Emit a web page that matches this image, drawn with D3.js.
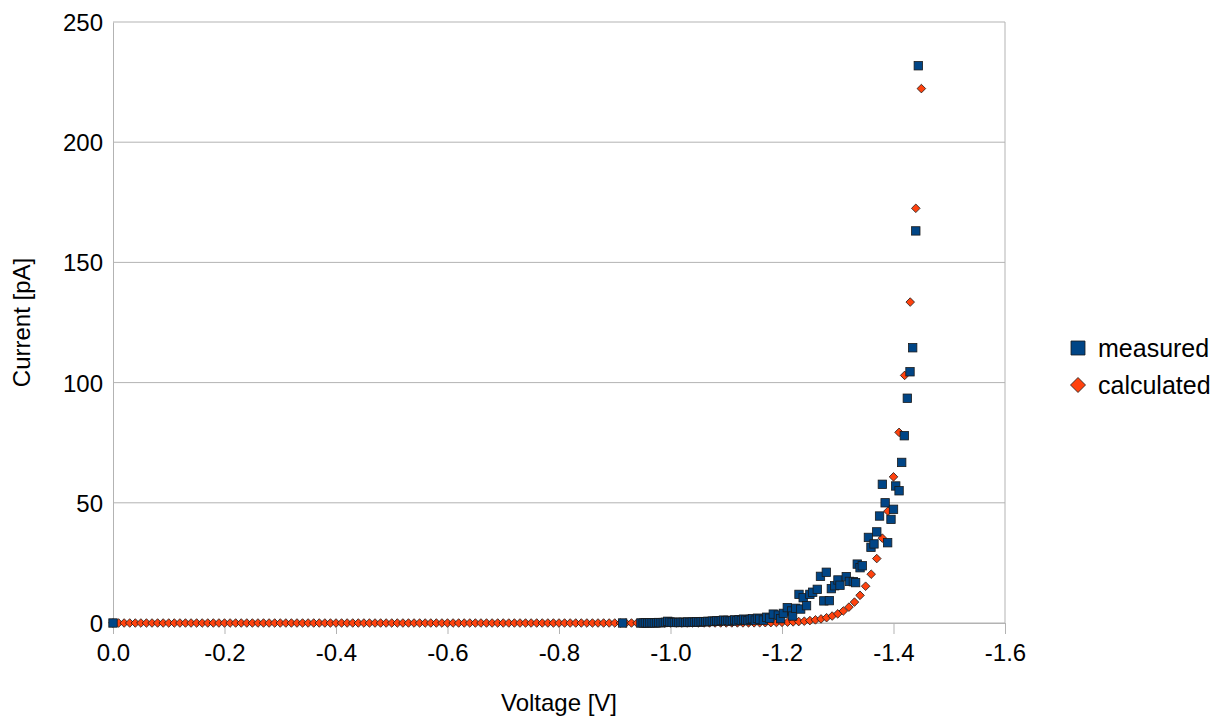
<!DOCTYPE html>
<html>
<head>
<meta charset="utf-8">
<script src="https://cdn.jsdelivr.net/npm/d3@7"></script>
<style>
  body { margin: 0; background: #fff; }
  text { font-family: "Liberation Sans", Arial, sans-serif; fill: #000; }
</style>
</head>
<body>
<svg id="chart"></svg>
<script>
/* measured points, voltage [V] and current [pA] */
var measVoltage = [0, -0.914,
  -0.947, -0.951, -0.955, -0.959, -0.963, -0.967, -0.971, -0.975, -0.979, -0.983,
  -0.987, -0.991, -0.995, -0.999, -1.003, -1.007, -1.011, -1.015, -1.019, -1.023,
  -1.027, -1.031, -1.035, -1.039, -1.043, -1.047, -1.051, -1.055, -1.059, -1.063,
  -1.067, -1.071, -1.075, -1.079, -1.083, -1.087, -1.091, -1.095, -1.099, -1.103,
  -1.107, -1.111, -1.115, -1.119, -1.123, -1.127, -1.131, -1.135, -1.139, -1.143,
  -1.147, -1.152, -1.156, -1.160, -1.1665, -1.1725, -1.178, -1.1844, -1.1934, -1.1975,
  -1.2024, -1.2095, -1.2174, -1.219, -1.2246, -1.2305, -1.2335, -1.238, -1.244, -1.250,
  -1.255, -1.2633, -1.269, -1.275, -1.2795, -1.285, -1.2885, -1.2945, -1.3004, -1.304,
  -1.3153, -1.321, -1.328, -1.332, -1.335, -1.340, -1.344, -1.355, -1.3596, -1.365,
  -1.370, -1.375, -1.380, -1.385, -1.3895, -1.3955, -1.400, -1.404, -1.410, -1.4147,
  -1.4194, -1.4248, -1.4296, -1.4344, -1.440, -1.4445];
var measCurrent = [0, 0,
  0.0, 0.0, 0.1, 0.0, 0.1, 0.1, 0.0, 0.1, 0.2, 0.1,
  0.2, 0.3, 0.7, 0.4, 0.3, 0.2, 0.3, 0.2, 0.3, 0.3,
  0.2, 0.4, 0.3, 0.4, 0.3, 0.5, 0.4, 0.5, 0.6, 0.5,
  0.7, 0.6, 0.8, 0.7, 0.9, 0.8, 1.0, 1.2, 0.9, 1.1,
  0.8, 1.0, 1.3, 0.9, 1.4, 1.1, 1.6, 1.2, 1.0, 1.5,
  1.8, 1.2, 2.0, 1.6, 1.2, 2.4, 2.0, 3.7, 3.3, 1.8,
  4.0, 6.4, 5.0, 2.9, 6.1, 11.9, 5.8, 10.5, 7.2, 11.9,
  12.8, 14.0, 19.4, 9.2, 21.1, 9.3, 14.3, 15.5, 17.9, 15.7,
  19.3, 17.3, 17.2, 16.8, 24.5, 23.0, 23.8, 35.6, 31.5, 32.9,
  37.9, 44.5, 57.7, 50.0, 33.4, 43.1, 47.3, 57.0, 55.0, 66.8,
  77.9, 93.5, 104.5, 114.5, 163.1, 231.8];

/* calculated points on the 0.01 V grid */
var calcVoltage = [
  0, -0.01, -0.02, -0.03, -0.04, -0.05, -0.06, -0.07, -0.08, -0.09,
  -0.10, -0.11, -0.12, -0.13, -0.14, -0.15, -0.16, -0.17, -0.18, -0.19,
  -0.20, -0.21, -0.22, -0.23, -0.24, -0.25, -0.26, -0.27, -0.28, -0.29,
  -0.30, -0.31, -0.32, -0.33, -0.34, -0.35, -0.36, -0.37, -0.38, -0.39,
  -0.40, -0.41, -0.42, -0.43, -0.44, -0.45, -0.46, -0.47, -0.48, -0.49,
  -0.50, -0.51, -0.52, -0.53, -0.54, -0.55, -0.56, -0.57, -0.58, -0.59,
  -0.60, -0.61, -0.62, -0.63, -0.64, -0.65, -0.66, -0.67, -0.68, -0.69,
  -0.70, -0.71, -0.72, -0.73, -0.74, -0.75, -0.76, -0.77, -0.78, -0.79,
  -0.80, -0.81, -0.82, -0.83, -0.84, -0.85, -0.86, -0.87, -0.88, -0.89,
  -0.90, -0.91, -0.92, -0.93, -0.94, -0.95, -0.96, -0.97, -0.98, -0.99,
  -1.00, -1.01, -1.02, -1.03, -1.04, -1.05, -1.06, -1.07, -1.08, -1.09,
  -1.10, -1.11, -1.12, -1.13, -1.14, -1.15, -1.16, -1.17, -1.18, -1.19,
  -1.20, -1.21, -1.22, -1.23, -1.24, -1.25, -1.26, -1.27, -1.28, -1.29,
  -1.30, -1.31, -1.32, -1.33, -1.34, -1.35, -1.36, -1.37, -1.38, -1.39,
  -1.40, -1.41, -1.42, -1.43, -1.44, -1.45];
var calcCurrent = [
  0, 0, 0, 0, 0, 0, 0, 0, 0, 0,
  0, 0, 0, 0, 0, 0, 0, 0, 0, 0,
  0, 0, 0, 0, 0, 0, 0, 0, 0, 0,
  0, 0, 0, 0, 0, 0, 0, 0, 0, 0,
  0, 0, 0, 0, 0, 0, 0, 0, 0, 0,
  0, 0, 0, 0, 0, 0, 0, 0, 0, 0,
  0, 0, 0, 0, 0, 0, 0, 0, 0, 0,
  0, 0, 0, 0, 0, 0, 0, 0, 0, 0,
  0, 0, 0, 0, 0, 0, 0, 0, 0, 0,
  0, 0, 0, 0, 0, 0, 0, 0, 0, 0,
  0.01, 0.01, 0.01, 0.01, 0.01, 0.01, 0.01, 0.02, 0.02, 0.02,
  0.02, 0.03, 0.03, 0.04, 0.05, 0.07, 0.09, 0.12, 0.15, 0.2,
  0.26, 0.34, 0.45, 0.58, 0.75, 1.0, 1.3, 1.7, 2.2, 2.9,
  3.8, 5.0, 6.6, 8.7, 11.5, 15.3, 20.3, 26.8, 35.3, 46.5,
  60.8, 79.3, 103, 133.5, 172.5, 222.3];

var xTicks = [0, -0.2, -0.4, -0.6, -0.8, -1.0, -1.2, -1.4, -1.6];
var yTicks = [0, 50, 100, 150, 200, 250];
var seriesNames = ["measured", "calculated"];
var seriesColors = ["#004586", "#ff420e"];

var svgWidth = 1228, svgHeight = 718;
var plotLeft = 113, plotRight = 1005, plotTop = 22, plotBottom = 623;

var svg = d3.select("#chart")
    .attr("width", svgWidth)
    .attr("height", svgHeight);

var x = d3.scaleLinear().domain([0, -1.6]).range([plotLeft, plotRight]);
var y = d3.scaleLinear().domain([0, 250]).range([plotBottom, plotTop]);

/* horizontal grid lines */
svg.append("g")
    .selectAll("line")
    .data(yTicks)
    .enter()
    .append("line")
    .attr("x1", plotLeft)
    .attr("x2", plotRight)
    .attr("y1", function(d) { return y(d); })
    .attr("y2", function(d) { return y(d); })
    .attr("stroke", "#b3b3b3")
    .attr("stroke-width", 1);

/* right border of the plot area */
svg.append("line")
    .attr("x1", plotRight).attr("x2", plotRight)
    .attr("y1", plotTop).attr("y2", plotBottom)
    .attr("stroke", "#b3b3b3");

/* x axis, ticks hang below the line */
var xAxis = svg.append("g")
    .attr("transform", "translate(0," + plotBottom + ")")
    .call(d3.axisBottom(x)
        .tickValues(xTicks)
        .tickSizeInner(11)
        .tickSizeOuter(0)
        .tickPadding(10)
        .tickFormat(function(d) { return d.toFixed(1); }));

/* y axis */
var yAxis = svg.append("g")
    .attr("transform", "translate(" + plotLeft + ",0)")
    .call(d3.axisLeft(y)
        .tickValues(yTicks)
        .tickSize(0)
        .tickPadding(10));

[xAxis, yAxis].forEach(function(g) {
    g.select(".domain").attr("stroke", "#b3b3b3");
    g.selectAll(".tick line").attr("stroke", "#b3b3b3");
    g.selectAll(".tick text")
        .attr("fill", "#000")
        .style("font-size", "24px")
        .style("font-family", "'Liberation Sans', Arial, sans-serif");
});
yAxis.selectAll(".tick text").attr("dy", "0.35em");

/* axis titles */
svg.append("text")
    .attr("x", (plotLeft + plotRight) / 2)
    .attr("y", 711)
    .attr("text-anchor", "middle")
    .style("font-size", "24px")
    .text("Voltage [V]");

svg.append("text")
    .attr("transform", "translate(30," + (plotTop + plotBottom) / 2 + ") rotate(-90)")
    .attr("text-anchor", "middle")
    .style("font-size", "24px")
    .text("Current [pA]");

/* calculated series first, measured squares sit on top */
var diamond = function(s) {
    return "M0," + (-s) + "L" + s + ",0L0," + s + "L" + (-s) + ",0Z";
};

svg.append("g")
    .selectAll("path")
    .data(d3.zip(calcVoltage, calcCurrent))
    .enter()
    .append("path")
    .attr("d", diamond(4.3))
    .attr("transform", function(d) { return "translate(" + x(d[0]) + "," + y(d[1]) + ")"; })
    .attr("fill", seriesColors[1])
    .attr("stroke", "#1a1a1a")
    .attr("stroke-width", 0.8);

svg.append("g")
    .selectAll("rect")
    .data(d3.zip(measVoltage, measCurrent))
    .enter()
    .append("rect")
    .attr("x", function(d) { return x(d[0]) - 4.2; })
    .attr("y", function(d) { return y(d[1]) - 4.2; })
    .attr("width", 8.4)
    .attr("height", 8.4)
    .attr("fill", seriesColors[0])
    .attr("stroke", "#1a1a1a")
    .attr("stroke-width", 0.8);

/* legend */
var legend = svg.append("g")
    .selectAll("g")
    .data(seriesNames)
    .enter()
    .append("g")
    .attr("transform", function(d, i) { return "translate(1078," + (348 + i * 37) + ")"; });

legend.append("path")
    .attr("d", function(d, i) {
        return i === 0 ? "M-7,-7H7V7H-7Z" : diamond(7.5);
    })
    .attr("fill", function(d, i) { return seriesColors[i]; })
    .attr("stroke", "#1a1a1a")
    .attr("stroke-width", 0.8);

legend.append("text")
    .attr("x", 20)
    .attr("y", 9)
    .style("font-size", "25px")
    .text(function(d) { return d; });
</script>
</body>
</html>
